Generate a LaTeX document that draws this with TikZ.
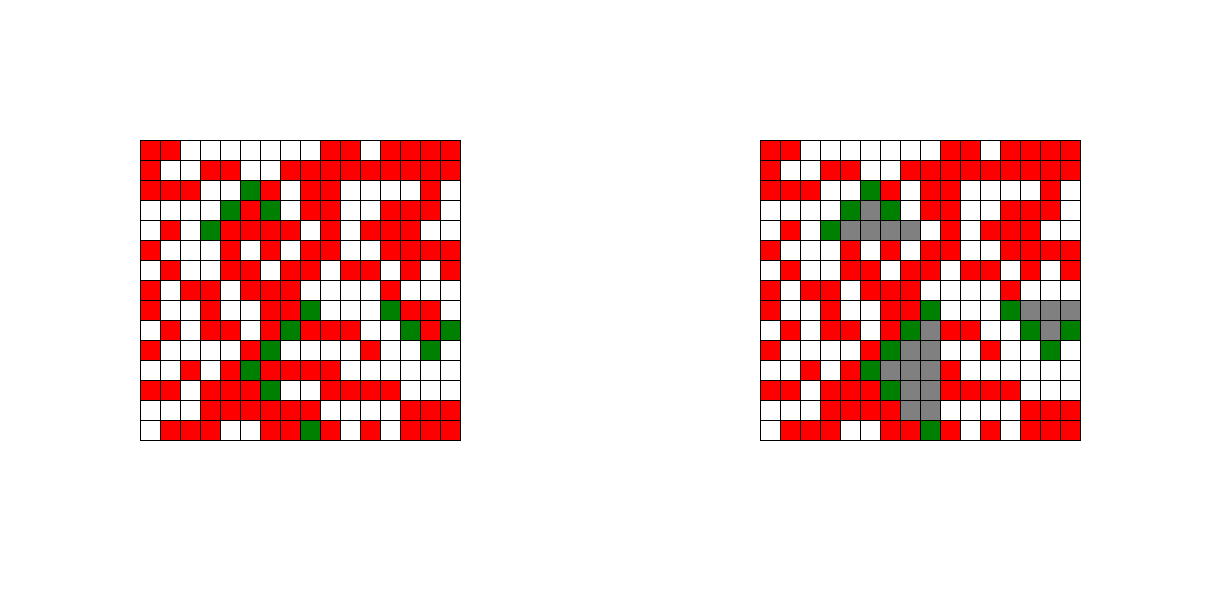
\documentclass[tikz,border=0pt]{standalone}
\definecolor{cR}{HTML}{FF0000}
\definecolor{cG}{HTML}{008000}
\definecolor{cX}{HTML}{808080}
\definecolor{cW}{HTML}{FFFFFF}
\begin{document}
\begin{tikzpicture}[x=1pt,y=-1pt,
  cell/.style={draw=black,line width=1pt}]
\useasboundingbox (0,0) rectangle (1220,600);
% left grid
\foreach \rowlist [count=\r from 0] in {
 {R,R,W,W,W,W,W,W,W,R,R,W,R,R,R,R},
 {R,W,W,R,R,W,W,R,R,R,R,R,R,R,R,R},
 {R,R,R,W,W,G,R,W,R,R,W,W,W,W,R,W},
 {W,W,W,W,G,R,G,W,R,R,W,W,R,R,R,W},
 {W,R,W,G,R,R,R,R,W,R,W,R,R,R,W,W},
 {R,W,W,W,R,W,R,W,R,R,W,W,R,R,R,R},
 {W,R,W,W,R,R,W,R,R,W,R,R,W,R,W,R},
 {R,W,R,R,W,R,R,R,W,W,W,W,R,W,W,W},
 {R,W,W,R,W,W,R,R,G,W,W,W,G,R,R,W},
 {W,R,W,R,R,W,R,G,R,R,R,W,W,G,R,G},
 {R,W,W,W,W,R,G,W,W,W,W,R,W,W,G,W},
 {W,W,R,W,R,G,R,R,R,R,W,W,W,W,W,W},
 {R,R,W,R,R,R,G,W,W,R,R,R,R,W,W,W},
 {W,W,W,R,R,R,R,R,R,W,W,W,W,R,R,R},
 {W,R,R,R,W,W,R,R,G,R,W,R,W,R,R,R}}{
  \foreach \c [count=\k from 0] in \rowlist {
    \draw[cell,fill=c\c] ({140+20*\k},{140+20*\r}) rectangle ++(20,20);
  }
}
% right grid
\foreach \rowlist [count=\r from 0] in {
 {R,R,W,W,W,W,W,W,W,R,R,W,R,R,R,R},
 {R,W,W,R,R,W,W,R,R,R,R,R,R,R,R,R},
 {R,R,R,W,W,G,R,W,R,R,W,W,W,W,R,W},
 {W,W,W,W,G,X,G,W,R,R,W,W,R,R,R,W},
 {W,R,W,G,X,X,X,X,W,R,W,R,R,R,W,W},
 {R,W,W,W,R,W,R,W,R,R,W,W,R,R,R,R},
 {W,R,W,W,R,R,W,R,R,W,R,R,W,R,W,R},
 {R,W,R,R,W,R,R,R,W,W,W,W,R,W,W,W},
 {R,W,W,R,W,W,R,R,G,W,W,W,G,X,X,X},
 {W,R,W,R,R,W,R,G,X,R,R,W,W,G,X,G},
 {R,W,W,W,W,R,G,X,X,W,W,R,W,W,G,W},
 {W,W,R,W,R,G,X,X,X,R,W,W,W,W,W,W},
 {R,R,W,R,R,R,G,X,X,R,R,R,R,W,W,W},
 {W,W,W,R,R,R,R,X,X,W,W,W,W,R,R,R},
 {W,R,R,R,W,W,R,R,G,R,W,R,W,R,R,R}}{
  \foreach \c [count=\k from 0] in \rowlist {
    \draw[cell,fill=c\c] ({760+20*\k},{140+20*\r}) rectangle ++(20,20);
  }
}
\end{tikzpicture}
\end{document}
